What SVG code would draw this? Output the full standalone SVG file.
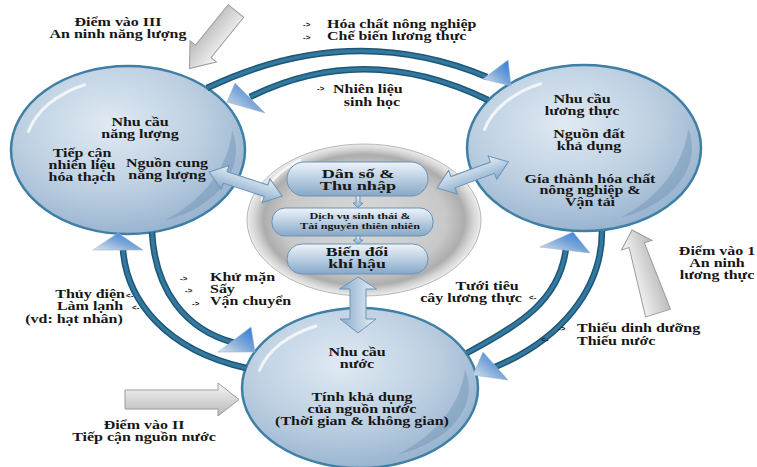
<svg xmlns="http://www.w3.org/2000/svg" width="757" height="467" viewBox="0 0 757 467">
<style>
.t{font-family:"Liberation Serif","Times New Roman",serif;font-weight:bold;font-size:11.5px;fill:#161616}
.m{text-anchor:middle}
.e{text-anchor:end}
.sa{font-family:"Liberation Sans",Arial,sans-serif;font-weight:bold;font-size:8px;fill:#222}
.ell{fill:url(#gEll);stroke:#3f7fa6;stroke-width:2.5}
.hi{fill:none;stroke:#ffffff;stroke-opacity:0.75;stroke-width:3;stroke-linecap:round}
.sh{fill:#6f92b3;fill-opacity:0.45}
.pill{fill:url(#gPill);stroke:#6b93b6;stroke-width:1}
.arcO{fill:none;stroke:#1e5674;stroke-width:6.5}
.arcI{fill:none;stroke:#3378a0;stroke-width:3.5}
.head{fill:url(#gHead);stroke:#9fb4c8;stroke-width:0.6}
.blk{fill:url(#gBlue);stroke:#6c94b8;stroke-width:1}
.gry{fill:url(#gGA);stroke:#9c9c9c;stroke-width:1}
</style>
<defs>
<radialGradient id="gEll" cx="0.42" cy="0.35" r="0.72">
<stop offset="0" stop-color="#e0eaf3"/>
<stop offset="0.55" stop-color="#bccfe1"/>
<stop offset="1" stop-color="#91aecb"/>
</radialGradient>
<radialGradient id="gGray" cx="0.5" cy="0.5" r="0.5">
<stop offset="0" stop-color="#dadada"/>
<stop offset="0.7" stop-color="#c8c8c8"/>
<stop offset="0.86" stop-color="#adadad"/>
<stop offset="0.93" stop-color="#d2d2d2"/>
<stop offset="1" stop-color="#ededed"/>
</radialGradient>
<linearGradient id="gPill" x1="0" y1="0" x2="0" y2="1">
<stop offset="0" stop-color="#eef4f9"/>
<stop offset="0.45" stop-color="#bfd2e4"/>
<stop offset="1" stop-color="#86a8c7"/>
</linearGradient>
<linearGradient id="gBlue" x1="0" y1="0" x2="0" y2="1">
<stop offset="0" stop-color="#e8f0f7"/>
<stop offset="1" stop-color="#86aacb"/>
</linearGradient>
<linearGradient id="gGA" x1="0" y1="0" x2="0" y2="1">
<stop offset="0" stop-color="#f6f6f6"/>
<stop offset="1" stop-color="#b8b8b8"/>
</linearGradient>
<linearGradient id="gHead" x1="0" y1="1" x2="1" y2="0">
<stop offset="0" stop-color="#dfe6ee"/>
<stop offset="0.5" stop-color="#7aa6d8"/>
<stop offset="1" stop-color="#2478de"/>
</linearGradient>
</defs>
<rect width="757" height="467" fill="#ffffff"/>

<g id="center">
<ellipse cx="364" cy="220" rx="117" ry="76" fill="url(#gGray)" stroke="#b8b8b8" stroke-width="1"/>
<path d="M262,200 A104,66 0 0 1 300,160" class="hi"/>
<g id="box-population">
<rect x="287" y="162" width="141" height="34" rx="17" class="pill"/>
<text class="t m" style="font-size:13px" transform="translate(358,177.5) scale(1.4,1)"><tspan x="0">Dân số &amp;</tspan><tspan x="0" dy="13">Thu nhập</tspan></text>
</g>
<g id="box-ecosystem">
<rect x="272" y="208" width="161" height="28" rx="13" class="pill"/>
<text class="t m" style="font-size:9px" transform="translate(360,219) scale(1.35,1)"><tspan x="0">Dịch vụ sinh thái &amp;</tspan><tspan x="0" dy="10.5">Tài nguyên thiên nhiên</tspan></text>
</g>
<g id="box-climate">
<rect x="287" y="244" width="141" height="30" rx="15" class="pill"/>
<text class="t m" style="font-size:12.5px" transform="translate(357,256) scale(1.42,1)"><tspan x="0">Biến đổi</tspan><tspan x="0" dy="12.5">khí hậu</tspan></text>
</g>
<path d="M356,196 L360,196 L360,203 L363,203 L358,208 L353,203 L356,203 Z" class="blk"/>
<path d="M356,236 L360,236 L360,240 L363,240 L358,244 L353,240 L356,240 Z" class="blk"/>
</g>

<g id="energy">
<g transform="translate(128,150)">
<ellipse cx="0" cy="0" rx="117" ry="84" class="ell"/>
<path d="M-99.5,-18.6 A103,72 0 0 1 -43.5,-65.3" class="hi"/>
<path d="M104.3,-19.4 A108,75 0 0 1 36.9,70.5 A150,120 0 0 0 104.3,-19.4 Z" class="sh"/>
</g>
<text class="t m" transform="translate(140,125.5) scale(1.39,1)"><tspan x="0">Nhu cầu</tspan><tspan x="0" dy="12.5">năng lượng</tspan></text>
<text class="t m" transform="translate(82,157) scale(1.39,1)"><tspan x="0">Tiếp cận</tspan><tspan x="0" dy="12">nhiên liệu</tspan><tspan x="0" dy="12">hóa thạch</tspan></text>
<text class="t m" transform="translate(167,167) scale(1.39,1)"><tspan x="0">Nguồn cung</tspan><tspan x="0" dy="12.5">năng lượng</tspan></text>
</g>

<g id="food">
<g transform="translate(584,148)">
<ellipse cx="0" cy="0" rx="117" ry="83" class="ell"/>
<path d="M-99.5,-18.6 A103,71 0 0 1 -43.5,-64.3" class="hi"/>
<path d="M104.3,-19.4 A108,74 0 0 1 36.9,69.5 A150,120 0 0 0 104.3,-19.4 Z" class="sh"/>
</g>
<text class="t m" transform="translate(582,102.5) scale(1.39,1)"><tspan x="0">Nhu cầu</tspan><tspan x="0" dy="12.5">lương thực</tspan></text>
<text class="t m" transform="translate(589,138) scale(1.39,1)"><tspan x="0">Nguồn đất</tspan><tspan x="0" dy="12.5">khả dụng</tspan></text>
<text class="t m" transform="translate(590,182.5) scale(1.39,1)"><tspan x="0">Gía thành hóa chất</tspan><tspan x="0" dy="12">nông nghiệp &amp;</tspan><tspan x="0" dy="12">Vận tải</tspan></text>
</g>

<g id="water">
<g transform="translate(360,388)">
<ellipse cx="0" cy="0" rx="118" ry="80" class="ell"/>
<path d="M-100.5,-17.7 A104,68 0 0 1 -44,-62" class="hi"/>
<path d="M105,-18.6 A109,71 0 0 1 37.3,66.7 A150,115 0 0 0 105,-18.6 Z" class="sh"/>
</g>
<text class="t m" transform="translate(357,355.5) scale(1.39,1)"><tspan x="0">Nhu cầu</tspan><tspan x="0" dy="12.5">nước</tspan></text>
<text class="t m" transform="translate(362,400.5) scale(1.39,1)"><tspan x="0">Tính khả dụng</tspan><tspan x="0" dy="12.5">của nguồn nước</tspan><tspan x="0" dy="12.5">(Thời gian &amp; không gian)</tspan></text>
</g>

<g id="connectors">
<path d="M207,88 Q350,20 487,77" class="arcO"/>
<path d="M207,88 Q350,20 487,77" class="arcI"/>
<polygon points="483,79 508,60 511,86" class="head"/>
<path d="M488,100 Q365,40 250,97" class="arcO"/>
<path d="M488,100 Q365,40 250,97" class="arcI"/>
<polygon points="235,83 227,102 265,113" class="head"/>
<path d="M246,368 C165,350 127,300 123,250" class="arcO"/>
<path d="M246,368 C165,350 127,300 123,250" class="arcI"/>
<polygon points="93,250 118,233 143,250" class="head"/>
<path d="M152,232 C155,290 185,330 235,343" class="arcO"/>
<path d="M152,232 C155,290 185,330 235,343" class="arcI"/>
<polygon points="218,352 251,327 255,352" class="head"/>
<path d="M467,353 C520,325 560,300 566,248" class="arcO"/>
<path d="M467,353 C520,325 560,300 566,248" class="arcI"/>
<polygon points="540,247 573,232 590,253" class="head"/>
<path d="M602,231 C602,290 560,340 495,367" class="arcO"/>
<path d="M602,231 C602,290 560,340 495,367" class="arcI"/>
<polygon points="473,375 483,352 508,380" class="head"/>
<path d="M0,0 L17,-12.5 L17,-6 L60,-6 L60,-12.5 L77,0 L60,12.5 L60,6 L17,6 L17,12.5 Z" class="blk" transform="translate(209,172) rotate(18.2)"/>
<path d="M0,0 L17,-12.5 L17,-6 L59,-6 L59,-12.5 L76,0 L59,12.5 L59,6 L17,6 L17,12.5 Z" class="blk" transform="translate(437,188) rotate(-20.1)"/>
<path d="M0,0 L12,-18.5 L12,-8 L42,-8 L42,-18 L56,0 L42,18 L42,8 L12,8 L12,18.5 Z" class="blk" transform="translate(358,277) rotate(90)"/>
<text class="sa" x="303" y="27">-&gt;</text>
<text class="sa" x="303" y="40">-&gt;</text>
<text class="sa" x="317" y="91">-&gt;</text>
<text class="sa" x="180" y="281">-&gt;</text>
<text class="sa" x="185" y="293">-&gt;</text>
<text class="sa" x="192" y="306">-&gt;</text>
<text class="sa" x="126" y="298">&lt;-</text>
<text class="sa" x="132" y="310">&lt;-</text>
<text class="sa" x="529" y="300">&lt;-</text>
<text class="sa" x="558" y="331">-&gt;</text>
<text class="sa" x="541" y="342">&lt;-</text>
<text class="t" transform="translate(327,27.5) scale(1.39,1)"><tspan x="0">Hóa chất nông nghiệp</tspan><tspan x="0" dy="13">Chế biến lương thực</tspan></text>
<text class="t" transform="translate(333,92.5) scale(1.39,1)">Nhiên liệu</text>
<text class="t m" transform="translate(372,105.5) scale(1.39,1)">sinh  học</text>
<text class="t" transform="translate(210,281) scale(1.39,1)"><tspan x="0">Khử mặn</tspan><tspan x="0" dy="12">Sấy</tspan><tspan x="0" dy="12.5">Vận chuyển</tspan></text>
<text class="t e" transform="translate(125,297.5) scale(1.39,1)">Thủy điện</text>
<text class="t m" transform="translate(90,310) scale(1.39,1)">Làm lạnh</text>
<text class="t m" transform="translate(74,322.5) scale(1.39,1)">(vd: hạt nhân)</text>
<text class="t m" transform="translate(487,289.5) scale(1.39,1)">Tưới tiêu</text>
<text class="t m" transform="translate(471,302) scale(1.39,1)">cây lương thực</text>
<text class="t" transform="translate(577,332) scale(1.39,1)"><tspan x="0">Thiếu dinh dưỡng</tspan><tspan x="0" dy="13">Thiếu nước</tspan></text>
</g>

<g id="entry-3">
<path d="M0,-10 L52,-10 L52,-17 L74,0 L52,17 L52,10 L0,10 Z" class="gry" transform="translate(236,11) rotate(129)"/>
<text class="t m" transform="translate(118,25.5) scale(1.39,1)"><tspan x="0">Điểm vào III</tspan><tspan x="0" dy="13">An ninh năng lượng</tspan></text>
</g>
<g id="entry-1">
<path d="M0,-13 L71,-8 L71,-16 L87,0 L71,16 L71,8 L0,13 Z" class="gry" transform="translate(658,313) rotate(-107.4)"/>
<text class="t m" transform="translate(717,255) scale(1.39,1)"><tspan x="0">Điểm vào 1</tspan><tspan x="0" dy="12">An ninh</tspan><tspan x="0" dy="12">lương thực</tspan></text>
</g>
<g id="entry-2">
<path d="M125,390 L218,390 L218,383 L239,399.5 L218,416 L218,409 L125,409 Z" class="gry"/>
<text class="t m" transform="translate(144,429) scale(1.39,1)"><tspan x="0">Điểm vào II</tspan><tspan x="0" dy="12.5">Tiếp cận nguồn nước</tspan></text>
</g>
</svg>
